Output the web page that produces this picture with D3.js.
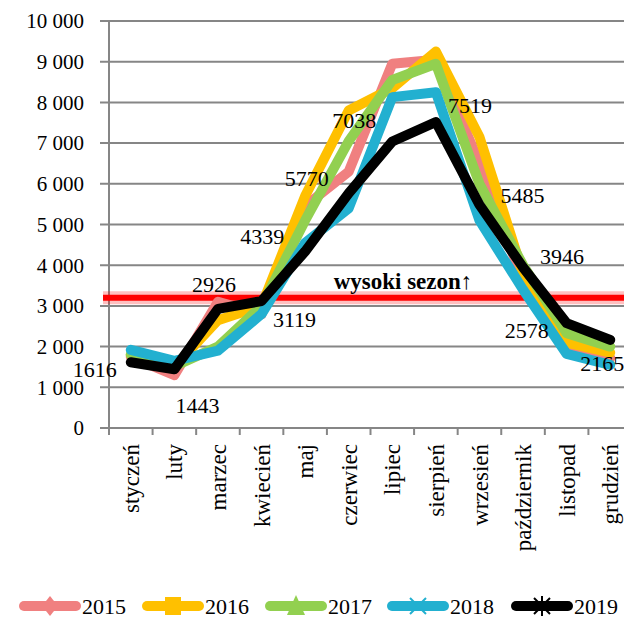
<!DOCTYPE html>
<html><head><meta charset="utf-8">
<script src="https://cdn.jsdelivr.net/npm/d3@7"></script>
<style>
html,body{margin:0;padding:0;background:#fff;}
svg{display:block;font-family:"Liberation Serif","DejaVu Serif",serif;}
</style></head>
<body>
<script>
const months = ["styczeń","luty","marzec","kwiecień","maj","czerwiec","lipiec","sierpień","wrzesień","październik","listopad","grudzień"];
const years = ["2015","2016","2017","2018","2019"];
const v2015 = [1750,1300,3100,2800,5450,6300,8950,9050,6500,3600,1900,1720];
const v2016 = [1800,1500,2650,3000,5700,7800,8350,9250,7150,3800,2100,1850];
const v2017 = [1800,1520,2000,3000,5100,7050,8550,8950,6000,4000,2330,2000];
const v2018 = [1920,1650,1900,2800,4550,5400,8130,8250,5100,3400,1820,1550];
const v2019 = [1616,1443,2926,3119,4339,5770,7038,7519,5485,3946,2578,2165];
const yTicks = [0,1000,2000,3000,4000,5000,6000,7000,8000,9000,10000];
const highSeason = 3200;
const highSeasonLabel = "wysoki sezon↑";
// label offsets (px) relative to each 2019 point
const labelDx = [-36,23,-4,33,-43,-42,-38,34,43,39,-40,-8];
const labelDy = [7,36,-25,18,-15,-15,-21,-17,-9,-11,7,23];

const colors = ["#F08080","#FFC000","#92D050","#22B0D0","#000000"];
const seriesVals = [v2015,v2016,v2017,v2018,v2019];

const W=624,H=619;
const svg=d3.select("body").append("svg").attr("width",W).attr("height",H);
const x=d3.scaleBand().domain(months).range([109,632]);
const y=d3.scaleLinear().domain([0,10000]).range([428,21]);
const loc=d3.formatLocale({decimal:",",thousands:"\u00a0",grouping:[3],currency:["",""]});
const fmt=loc.format(",d");

// gridlines
svg.append("g").selectAll("line").data(yTicks).join("line")
  .attr("x1",100).attr("x2",W).attr("y1",d=>y(d)).attr("y2",d=>y(d))
  .attr("stroke","#868686").attr("stroke-width",2);
// y labels
svg.append("g").selectAll("text").data(yTicks).join("text")
  .attr("x",84).attr("y",d=>y(d)).attr("dy","0.35em").attr("text-anchor","end")
  .attr("font-size",21).attr("fill","#000").text(d=>fmt(d));
// left axis
svg.append("line").attr("x1",109).attr("x2",109).attr("y1",y(10000)).attr("y2",y(0))
  .attr("stroke","#868686").attr("stroke-width",2);
// bottom ticks
const bounds=months.map(m=>x(m)).concat([x.range()[1]]);
svg.append("g").selectAll("line").data(bounds).join("line")
  .attr("x1",d=>d).attr("x2",d=>d).attr("y1",y(0)).attr("y2",y(0)+7)
  .attr("stroke","#868686").attr("stroke-width",2);
// x labels
svg.append("g").selectAll("text").data(months).join("text")
  .attr("transform",d=>`translate(${x(d)+x.bandwidth()/2},444) rotate(-90)`)
  .attr("text-anchor","end").attr("dy","0.35em").attr("font-size",23).text(d=>d);

// high season line with glow
svg.append("line").attr("x1",103).attr("x2",W).attr("y1",y(highSeason)).attr("y2",y(highSeason))
  .attr("stroke","rgba(255,0,0,0.25)").attr("stroke-width",13);
svg.append("line").attr("x1",103).attr("x2",W).attr("y1",y(highSeason)).attr("y2",y(highSeason))
  .attr("stroke","#FF0000").attr("stroke-width",6);
svg.append("text").attr("x",403).attr("y",y(highSeason)-9).attr("text-anchor","middle")
  .attr("font-size",23).attr("font-weight","bold").text(highSeasonLabel);

// lines
const line=d3.line().x((d,i)=>x(months[i])+x.bandwidth()/2).y(d=>y(d));
seriesVals.forEach((vals,k)=>{
  svg.append("path").datum(vals).attr("d",line).attr("fill","none")
    .attr("stroke",colors[k]).attr("stroke-width",10)
    .attr("stroke-linejoin","round").attr("stroke-linecap","round");
});

// data labels (2019)
svg.append("g").selectAll("text").data(v2019).join("text")
  .attr("x",(d,i)=>x(months[i])+x.bandwidth()/2+labelDx[i])
  .attr("y",(d,i)=>y(d)+labelDy[i]).attr("dy","0.35em")
  .attr("text-anchor","middle").attr("font-size",22).text(d=>d);

// legend
const legX=[20,143,266,388,512];
const lg=svg.append("g");
years.forEach((yr,k)=>{
  const g=lg.append("g").attr("transform",`translate(${legX[k]},606)`);
  g.append("line").attr("x1",4).attr("x2",56).attr("y1",0).attr("y2",0)
    .attr("stroke",colors[k]).attr("stroke-width",10).attr("stroke-linecap","round");
  const c=30;
  if(k===0){g.append("path").attr("d",`M${c},-10L${c+8},0L${c},10L${c-8},0Z`).attr("fill",colors[k]);}
  if(k===1){g.append("rect").attr("x",c-8).attr("y",-9).attr("width",16).attr("height",18).attr("fill",colors[k]);}
  if(k===2){g.append("path").attr("d",`M${c},-11L${c+9},9L${c-9},9Z`).attr("fill",colors[k]);}
  if(k===3){g.append("path").attr("d",`M${c-8},-8L${c+8},8M${c+8},-8L${c-8},8`).attr("stroke",colors[k]).attr("stroke-width",2);}
  if(k===4){g.append("path").attr("d",`M${c-8},-8L${c+8},8M${c+8},-8L${c-8},8M${c},-10L${c},10`).attr("stroke",colors[k]).attr("stroke-width",2);}
  g.append("text").attr("x",62).attr("y",0).attr("dy","0.35em").attr("font-size",22).text(yr);
});
</script>
</body></html>
